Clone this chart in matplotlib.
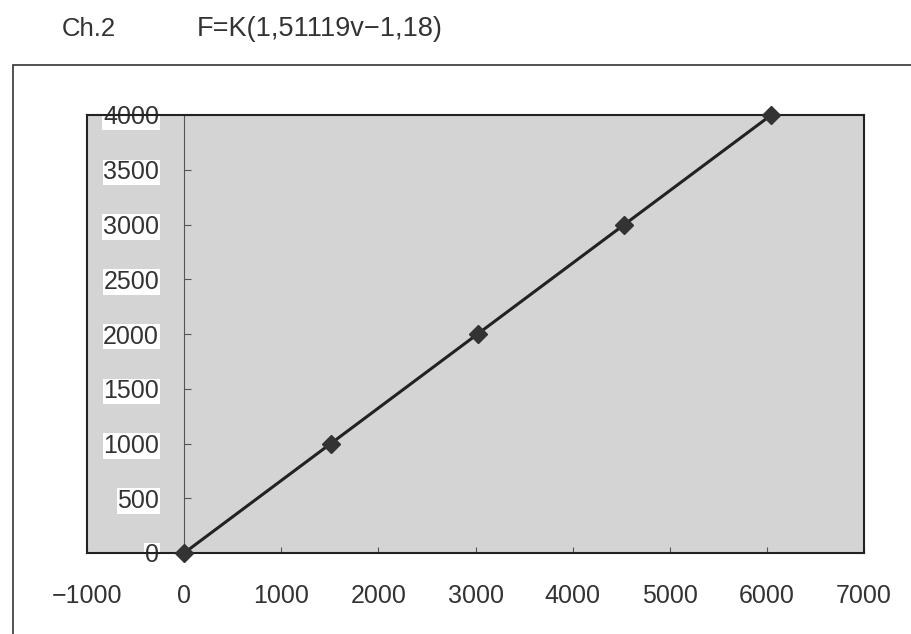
import matplotlib.pyplot as plt
from matplotlib.patches import Rectangle

plt.rcParams['font.family'] = ['Liberation Sans', 'DejaVu Sans']

# data
x_vals = [0, 1511, 3022, 4533, 6045]
y_vals = [0, 1000, 2000, 3000, 4000]
x_ticks = [-1000, 0, 1000, 2000, 3000, 4000, 5000, 6000, 7000]
y_ticks = [0, 500, 1000, 1500, 2000, 2500, 3000, 3500, 4000]
label_left = 'Ch.2'
label_formula = 'F=K(1,51119v\u22121,18)'

fig = plt.figure(figsize=(9.11, 6.34), dpi=100)

# outer chart frame
fig.patches.append(Rectangle((13 / 911, -0.05), 1.2, 1 - 65 / 634 + 0.05,
                             transform=fig.transFigure, fill=False,
                             edgecolor='#333333', linewidth=1.2))

fig.text(62 / 911, 1 - 29 / 634, label_left, fontsize=18.5, color='#333333', va='center')
fig.text(197 / 911, 1 - 29 / 634, label_formula, fontsize=19.5, color='#333333', va='center')

ax = fig.add_axes([87 / 911, 1 - 553 / 634, 777 / 911, 438 / 634])
ax.set_facecolor('#d4d4d4')

ax.plot(x_vals, y_vals, color='#222222', linewidth=2.2, marker='D',
        markersize=9, markerfacecolor='#333333', markeredgecolor='#333333',
        clip_on=False, zorder=5)

ax.set_xlim(-1000, 7000)
ax.set_ylim(0, 4000)
ax.set_xticks(x_ticks)
ax.set_yticks(y_ticks)
ax.set_xticklabels([str(t).replace('-', '\u2212') for t in x_ticks])

# y axis crosses at x = 0
ax.spines['left'].set_position(('data', 0))
ax.spines['left'].set_color('#555555')
ax.spines['left'].set_linewidth(0.8)
for s in ['top', 'right', 'bottom']:
    ax.spines[s].set_color('#222222')
    ax.spines[s].set_linewidth(1.5)
ax.axvline(-1000, color='#222222', linewidth=1.5, clip_on=False)

ax.tick_params(axis='y', direction='in', length=5, pad=18, labelsize=18,
               colors='#555555', labelcolor='#333333')
ax.tick_params(axis='x', direction='in', length=4, pad=22, labelsize=18,
               colors='#555555', labelcolor='#333333')
for lbl in ax.get_yticklabels():
    lbl.set_bbox(dict(facecolor='white', edgecolor='none', pad=0.5))

fig.savefig('out.png', dpi=100)
